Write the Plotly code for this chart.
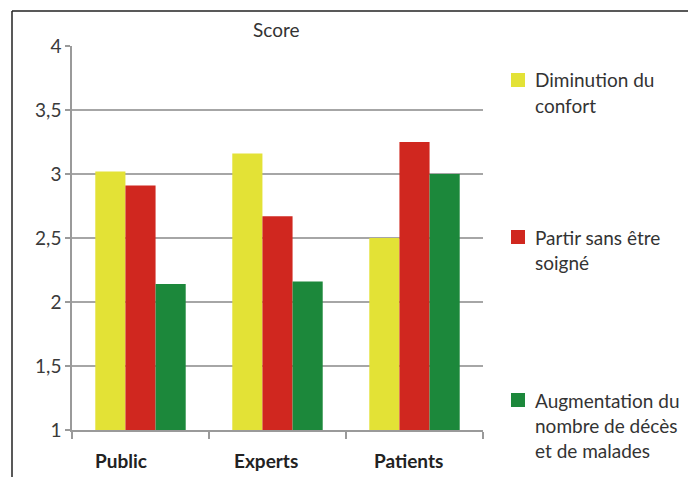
import plotly.graph_objects as go

categories = ["Public", "Experts", "Patients"]
series_names = ["Diminution du confort", "Partir sans être soigné", "Augmentation du nombre de décès et de malades"]
legend_lines = [["Diminution du", "confort"], ["Partir sans être", "soigné"], ["Augmentation du", "nombre de décès", "et de malades"]]
diminution = [3.02, 3.16, 2.50]
partir = [2.91, 2.67, 3.25]
augmentation = [2.14, 2.16, 3.00]
colors = ["#e3e236", "#d0271f", "#1c883b"]
y_ticks = [1, 1.5, 2, 2.5, 3, 3.5, 4]

W, H = 688, 477
L, R, T, B = 72, 483, 46, 430

def px_x(p):
    return (p - L) / (R - L)

def px_y(p):
    return (B - p) / (B - T)

fig = go.Figure()
for i, (name, vals) in enumerate(zip(series_names, [diminution, partir, augmentation])):
    fig.add_trace(go.Bar(x=categories, y=vals, name=name, marker_color=colors[i],
                         marker_line_width=0))

font_fam = "Lato, 'Open Sans', sans-serif"
fig.update_layout(
    width=W, height=H,
    margin=dict(l=L, r=W - R, t=T, b=H - B, pad=0, autoexpand=False),
    paper_bgcolor="white", plot_bgcolor="white",
    barmode="group", bargap=0.34, bargroupgap=0,
    separators=", ",
    font=dict(family=font_fam, color="#333333", size=18),
    showlegend=False,
    xaxis=dict(type="category", showgrid=False, showline=True, linecolor="#9a9a9a", linewidth=1.5,
               ticks="outside", tickson="boundaries", ticklen=7, tickcolor="#9a9a9a", tickwidth=1.5,
               showticklabels=False, range=[-0.5, 2.5]),
    yaxis=dict(range=[1, 4], tickvals=y_ticks, showgrid=True, gridcolor="#a6a6a6", gridwidth=1.5,
               showline=True, linecolor="#9a9a9a", linewidth=1.5, ticks="outside", ticklen=5,
               tickcolor="#9a9a9a", tickwidth=1.5, zeroline=False,
               tickfont=dict(size=19, color="#3a3a3a")),
)

# category labels (bold)
shifts = [-20, -12, -6]
for c, s in zip(categories, shifts):
    fig.add_annotation(x=c, y=px_y(460), xref="x", yref="paper", text="<b>" + c + "</b>",
                       showarrow=False, xshift=s, font=dict(size=19, color="#222222"),
                       xanchor="center", yanchor="middle")

# title
fig.add_annotation(x=px_x(276), y=px_y(30), xref="paper", yref="paper", text="Score",
                   showarrow=False, font=dict(size=19, color="#333333"), xanchor="center", yanchor="middle")

# custom legend
first_line_y = [80, 237, 400]
for lines, col, y0 in zip(legend_lines, colors, first_line_y):
    fig.add_shape(type="rect", xref="paper", yref="paper", x0=px_x(511), x1=px_x(525),
                  y0=px_y(y0 - 7), y1=px_y(y0 + 7), fillcolor=col, line_width=0)
    for k, t in enumerate(lines):
        fig.add_annotation(x=px_x(533), y=px_y(y0 + 25 * k), xref="paper", yref="paper", text=t,
                           showarrow=False, xanchor="left", yanchor="middle",
                           font=dict(size=19, color="#333333"))

# frame
fig.add_shape(type="line", xref="paper", yref="paper", x0=px_x(12), x1=px_x(690), y0=px_y(11), y1=px_y(11),
              line=dict(color="#222222", width=1.5))
fig.add_shape(type="line", xref="paper", yref="paper", x0=px_x(12), x1=px_x(12), y0=px_y(11), y1=px_y(480),
              line=dict(color="#222222", width=1.5))

fig.write_html("out.html")
